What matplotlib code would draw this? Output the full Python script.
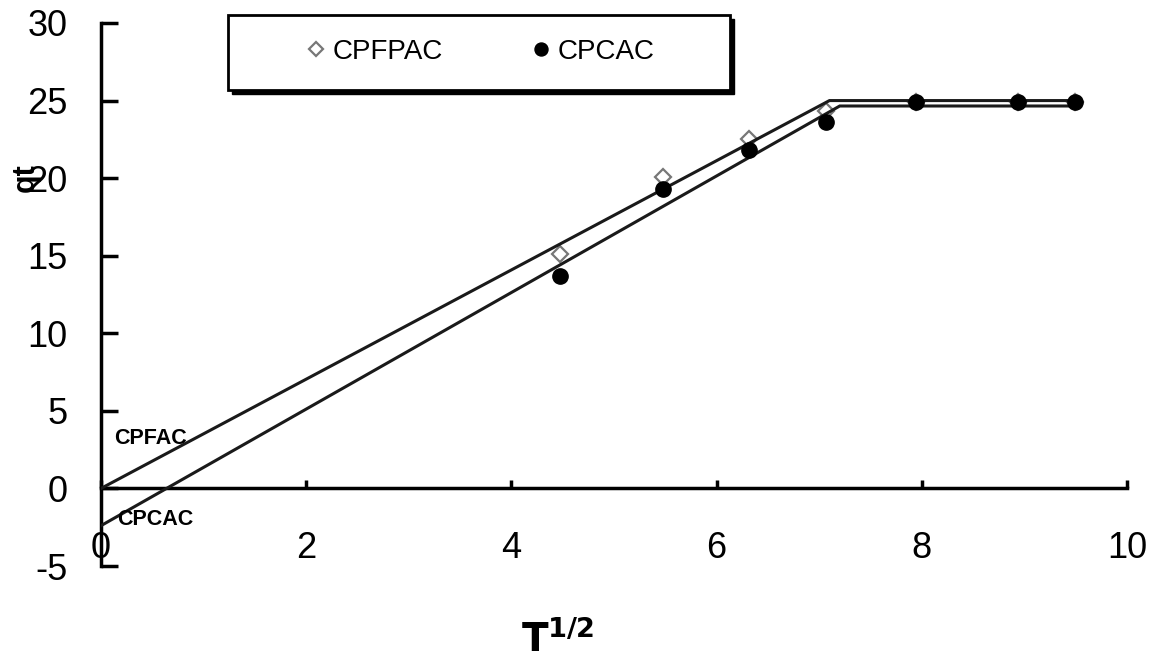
import matplotlib
matplotlib.use("Agg")
import matplotlib.pyplot as plt
from matplotlib.patches import Rectangle

plt.rcParams['font.family'] = ['Liberation Sans', 'DejaVu Sans']

# Data
t_sqrt = [4.47, 5.48, 6.32, 7.07, 7.94, 8.94, 9.49]
cpfpac_q = [15.1, 20.1, 22.5, 24.3, 24.9, 24.9, 24.9]
cpcac_q = [13.7, 19.3, 21.8, 23.6, 24.9, 24.9, 24.9]

# Fitted lines (intra-particle diffusion segments + plateau)
cpfac_line_x = [0.0, 7.1, 9.49]
cpfac_line_y = [0.0, 25.0, 25.0]
cpcac_line_x = [0.0, 7.2, 9.49]
cpcac_line_y = [-2.4, 24.65, 24.65]

x_ticks = [0, 2, 4, 6, 8, 10]
y_ticks = [-5, 0, 5, 10, 15, 20, 25, 30]

fig = plt.figure(figsize=(11.57, 6.66), dpi=100)
ax = fig.add_axes([101/1157, 1-566/666, (1127-101)/1157, (566-23)/666])
ax.set_xlim(0, 10)
ax.set_ylim(-5, 30)

ax.plot(t_sqrt, cpfpac_q, linestyle='none', marker='D', ms=8, mfc='white',
        mec='#777777', mew=1.6, zorder=2, label='CPFPAC')
ax.plot(cpfac_line_x, cpfac_line_y, color='#1a1a1a', lw=2.2, zorder=3,
        solid_joinstyle='miter')
ax.plot(cpcac_line_x, cpcac_line_y, color='#1a1a1a', lw=2.2, zorder=3,
        solid_joinstyle='miter')
ax.plot(t_sqrt, cpcac_q, linestyle='none', marker='o', ms=11, mfc='black',
        mec='black', zorder=4, label='CPCAC')

for s in ['top', 'right']:
    ax.spines[s].set_visible(False)
ax.spines['bottom'].set_position(('data', 0))
ax.spines['left'].set_linewidth(2.5)
ax.spines['bottom'].set_linewidth(2.5)

ax.set_xticks(x_ticks)
ax.set_yticks(y_ticks)
ax.set_xticklabels([str(v) for v in x_ticks])
ax.set_yticklabels([str(v) for v in y_ticks])
ax.tick_params(axis='y', direction='in', length=12, width=2.5, pad=24,
               labelsize=26)
ax.tick_params(axis='x', direction='in', length=6, width=2.5, pad=31,
               labelsize=26)

# annotations
ax.text(0.13, 3.2, 'CPFAC', fontsize=15.5, fontweight='bold', va='center', ha='left')
ax.text(0.16, -2.0, 'CPCAC', fontsize=15.5, fontweight='bold', va='center', ha='left')

# axis labels
fig.text(26/1157, 1-178/666, 'qt', rotation=90, fontsize=22, fontweight='bold',
         ha='center', va='center')
fig.text(558/1157, 1-640/666, r'$\mathbf{T^{1/2}}$', fontsize=28,
         ha='center', va='center')

# legend box with shadow
bx0, by0, bw, bh = 228/1157, 1-90/666, (730-228)/1157, (90-15)/666
fig.patches.append(Rectangle((bx0+4/1157, by0-4/666), bw, bh, transform=fig.transFigure,
                             facecolor='black', edgecolor='black', zorder=5))
fig.patches.append(Rectangle((bx0, by0), bw, bh, transform=fig.transFigure,
                             facecolor='white', edgecolor='black', lw=2, zorder=6))
leg = fig.legend(loc='center left', bbox_to_anchor=(308/1157, 1-52/666),
                 ncol=2, frameon=False, fontsize=20, handlelength=0.6,
                 handletextpad=0.3, columnspacing=3.2, borderpad=0,
                 borderaxespad=0, markerscale=0.85)
leg.set_zorder(7)

fig.savefig('out.png', dpi=100)
